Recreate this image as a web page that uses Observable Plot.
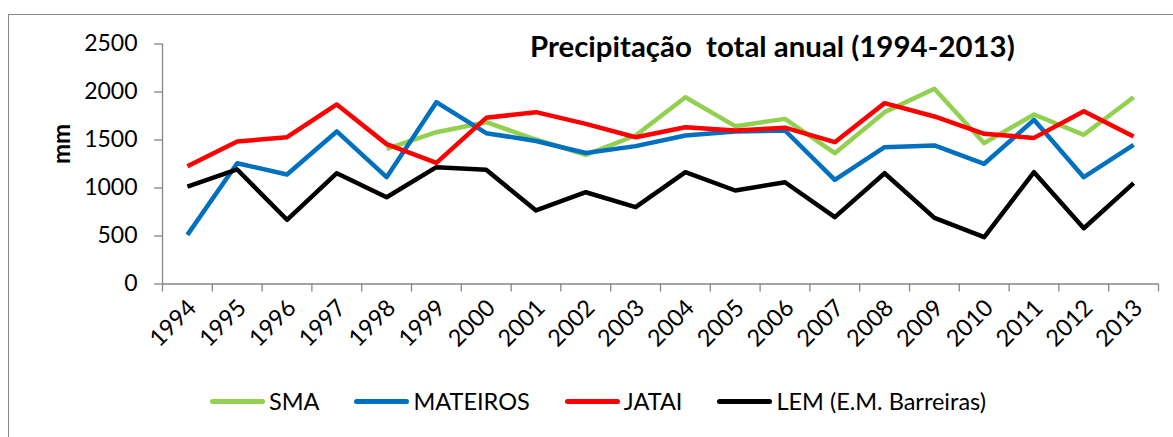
<!DOCTYPE html>
<html>
<head>
<meta charset="utf-8">
<script src="https://cdn.jsdelivr.net/npm/d3@7"></script>
<script src="https://cdn.jsdelivr.net/npm/@observablehq/plot@0.6"></script>
<style>
  html, body { margin: 0; padding: 0; background: #fff; }
  #wrap { position: relative; width: 1173px; height: 437px; overflow: hidden; font-family: Lato, "Open Sans", sans-serif; }
  #frame { position: absolute; left: 8px; top: 14px; width: 1300px; height: 600px; border-left: 1px solid #8a8a8a; border-top: 1px solid #8a8a8a; box-sizing: border-box; }
  #chart { position: absolute; left: 0; top: 0; }
  #title { position: absolute; left: 530px; top: 31px; font-weight: bold; font-size: 29.4px; color: #000; white-space: pre; line-height: 1; }
  #legend { position: absolute; left: 210px; top: 390px; display: flex; gap: 35px; align-items: center; }
  .item { display: flex; align-items: center; }
  .sw { width: 55px; height: 5px; border-radius: 3px; margin-right: 4px; }
  .lab { font-size: 23.5px; color: #000; line-height: 1; }
</style>
</head>
<body>
<div id="wrap">
  <div id="frame"></div>
  <div id="chart"></div>
  <div id="title"></div>
  <div id="legend"></div>
</div>
<script>
const years = [1994,1995,1996,1997,1998,1999,2000,2001,2002,2003,2004,2005,2006,2007,2008,2009,2010,2011,2012,2013];
const seriesNames = ["SMA", "MATEIROS", "JATAI", "LEM (E.M. Barreiras)"];
const seriesColors = ["#92D050", "#0070C0", "#FF0000", "#000000"];
const sma      = [null,null,null,null,1408,1581,1685,1505,1345,1547,1946,1644,1720,1363,1790,2033,1467,1766,1554,1946];
const mateiros = [512,1258,1141,1589,1113,1894,1571,1490,1365,1436,1547,1589,1599,1085,1425,1443,1252,1710,1113,1450];
const jatai    = [1227,1484,1529,1870,1457,1262,1731,1790,1668,1529,1633,1599,1628,1477,1884,1745,1564,1522,1800,1536];
const lem      = [1015,1193,669,1154,904,1217,1189,766,956,800,1165,974,1060,696,1154,689,488,1165,581,1050];
const yTicks = [0,500,1000,1500,2000,2500];
const titleText = "Precipitação  total anual (1994-2013)";
const yLabel = "mm";

const allSeries = [sma, mateiros, jatai, lem];
const rows = [];
allSeries.forEach((vals, i) => {
  vals.forEach((v, j) => rows.push({series: seriesNames[i], year: years[j], value: v}));
});
const bounds = [years[0] - 0.5, ...years.map(y => y + 0.5)];
const axisColor = "#868686";

const chart = Plot.plot({
  width: 1173,
  height: 370,
  marginLeft: 162,
  marginRight: 15,
  marginTop: 43.5,
  marginBottom: 86.5,
  style: {fontFamily: "Lato, 'Open Sans', sans-serif", fontSize: "23px", color: "#000", background: "transparent"},
  x: {domain: [bounds[0], bounds[bounds.length - 1]]},
  y: {domain: [0, 2500]},
  color: {domain: seriesNames, range: seriesColors},
  marks: [
    Plot.ruleY([0], {stroke: axisColor, strokeWidth: 1.3}),
    Plot.ruleX([bounds[0]], {y1: 0, y2: 2500, stroke: axisColor, strokeWidth: 1.3}),
    Plot.axisY({ticks: yTicks, tickSize: 8, tickPadding: 17, tickFormat: d => String(d), stroke: axisColor, strokeWidth: 1.3, label: null, fill: "#000", fontSize: 23}),
    Plot.axisX({ticks: bounds, tickSize: 8, tickFormat: () => "", stroke: axisColor, strokeWidth: 1.3, label: null}),
    Plot.axisX({ticks: years, tickSize: 0, tickRotate: -45, tickPadding: 20, dx: 5, tickFormat: d => String(d), label: null, fill: "#000", fontSize: 23.5}),
    Plot.text([yLabel], {frameAnchor: "left", rotate: -90, dx: -100, fontWeight: "bold", fontSize: 24, fill: "#000"}),
    Plot.line(rows, {x: "year", y: "value", z: "series", stroke: "series", strokeWidth: 4.5, strokeLinejoin: "round", strokeLinecap: "butt", defined: d => d.value != null})
  ]
});
document.getElementById("chart").appendChild(chart);
document.getElementById("title").textContent = titleText;

const legend = document.getElementById("legend");
seriesNames.forEach((name, i) => {
  const item = document.createElement("div");
  item.className = "item";
  const sw = document.createElement("div");
  sw.className = "sw";
  sw.style.background = seriesColors[i];
  const lab = document.createElement("div");
  lab.className = "lab";
  lab.textContent = name;
  item.appendChild(sw);
  item.appendChild(lab);
  legend.appendChild(item);
});
</script>
</body>
</html>
